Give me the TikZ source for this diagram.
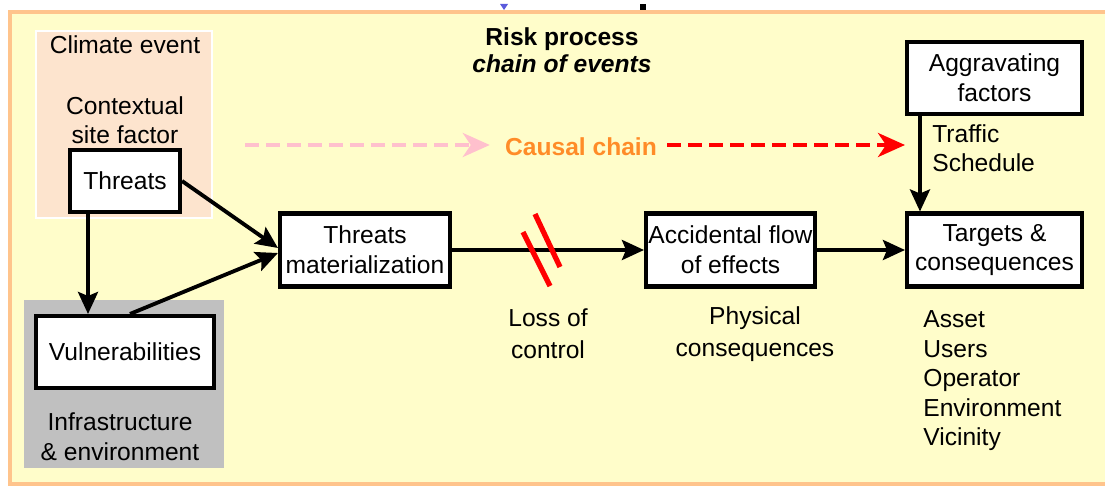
\documentclass[tikz,border=0pt]{standalone}
\usepackage{fontspec}
\setmainfont{Liberation Sans}
\usetikzlibrary{arrows.meta}

\definecolor{panelfill}{RGB}{255,253,202}
\definecolor{panelrim}{RGB}{255,196,140}
\definecolor{peach}{RGB}{253,228,206}
\definecolor{infragray}{RGB}{192,192,192}
\definecolor{chainorange}{RGB}{255,140,40}
\definecolor{chainpink}{RGB}{255,192,205}
\definecolor{marker}{RGB}{90,90,220}

\tikzset{
  txt/.style={font=\fontsize{14pt}{17pt}\selectfont, align=center, inner sep=0pt},
  stepbox/.style={txt, draw=black, line width=2.3pt, fill=white},
  flow/.style={line width=2.2pt, -{Stealth[length=0.44cm,width=0.4cm,inset=0.08cm]}},
  chain/.style={line width=2.2pt, dash pattern=on 0.28cm off 0.14cm,
    -{Stealth[length=0.54cm,width=0.48cm,inset=0.16cm]}},
  slash/.style={red, line width=3pt},
}

\begin{document}
\begin{tikzpicture}[x=0.02cm, y=-0.02cm]
\useasboundingbox (0,0) rectangle (1105,486);
\fill[white] (0,0) rectangle (1105,486);

% main panel
\draw[panelrim, line width=2.4pt, fill=panelfill] (10,12) rectangle (1125,484);

% small marks on the upper rim
\fill[marker] (500,4) -- (508,4) -- (504,10) -- cycle;
\fill[black] (640,4) rectangle (646,10);

% background zones
\draw[white, line width=0.8pt, fill=peach] (36,31) rectangle (212,218);
\fill[infragray] (24,300) rectangle (224,468);

% zone captions
\node[txt] (climate) at (125,45) {Climate event};
\node[txt, font=\fontsize{14pt}{16.4pt}\selectfont] (context) at (125,120) {Contextual\\site factor};
\node[txt, font=\fontsize{14pt}{17pt}\selectfont] (infra) at (120,437) {Infrastructure\\\& environment};

% title
\node[txt, font=\bfseries\fontsize{14pt}{15.6pt}\selectfont] (title) at (562,50) {Risk process\\\itshape chain of events};

% process boxes
\node[stepbox, minimum width=110*0.02cm, minimum height=62*0.02cm] (threats) at (125,181) {Threats};
\node[stepbox, minimum width=178*0.02cm, minimum height=72*0.02cm] (vuln) at (125,352) {Vulnerabilities};
\node[stepbox, minimum width=170*0.02cm, minimum height=73*0.02cm] (mat) at (365,250) {Threats\\materialization};
\node[stepbox, minimum width=169*0.02cm, minimum height=73*0.02cm] (acc) at (730.5,250) {Accidental flow\\of effects};
\node[stepbox, minimum width=175*0.02cm, minimum height=73*0.02cm] (targets) at (994.5,250) {Targets \&\\consequences};
\node[stepbox, minimum width=175*0.02cm, minimum height=72*0.02cm] (aggr) at (994.5,78) {Aggravating\\factors};

% causal chain
\node[txt, font=\bfseries\fontsize{14pt}{17pt}\selectfont, text=chainorange] (causal) at (581,147) {Causal chain};
\coordinate (pinkstart) at (245,145);
\coordinate (redend) at (905,145);
\draw[chain, chainpink] (pinkstart) -- ([xshift=-0.3cm]causal.west |- pinkstart);
\draw[chain, red] ([xshift=0.2cm]causal.east |- redend) -- (redend);

% connectors
\draw[flow] ([xshift=-0.74cm]threats.south) -- ([xshift=-0.74cm]threats.south |- vuln.north);
\draw[flow] (threats.east) -- ([yshift=0.04cm]mat.west);
\draw[flow] ([xshift=0.1cm]vuln.north) -- ([yshift=-0.06cm]mat.west);
\draw[flow] (mat.east) -- (acc.west);
\draw[flow] (acc.east) -- (targets.west);
\draw[flow] ([xshift=0.3cm]aggr.south west) -- ([xshift=0.3cm]targets.north west);

% loss of control
\draw[slash] (523,232) -- (550,286);
\draw[slash] (535,214) -- (560,267);

% annotations
\node[txt, anchor=west, align=left, font=\fontsize{14pt}{16.4pt}\selectfont] (traffic) at (932,148) {Traffic\\Schedule};
\node[txt, font=\fontsize{14pt}{18.1pt}\selectfont] (loss) at (548,334) {Loss of\\control};
\node[txt, font=\fontsize{14pt}{18.1pt}\selectfont] (phys) at (755,334) {Physical\\consequences};
\node[txt, anchor=west, align=left, font=\fontsize{14pt}{16.8pt}\selectfont] (targetlist) at (923,381) {Asset\\Users\\Operator\\Environment\\Vicinity};
\end{tikzpicture}
\end{document}
